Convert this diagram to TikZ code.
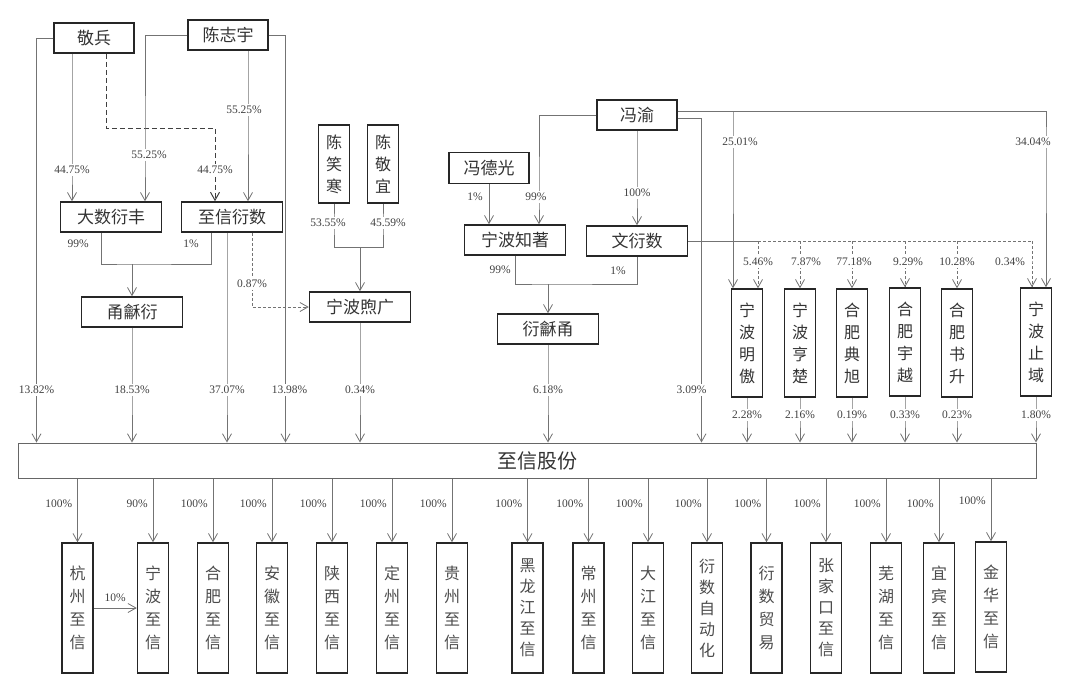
\documentclass[tikz,border=0pt]{standalone}
\usepackage{fontspec}
\setmainfont{Liberation Serif}
\newfontfamily\cjk{Noto Sans CJK SC}
\usetikzlibrary{arrows.meta,positioning}

\tikzset{
	box/.style={draw=black!85, line width=1.5pt, text=black!80, inner sep=0pt,
		minimum width=101pt, minimum height=30pt, font=\cjk\fontsize{17}{20}\selectfont},
	namebox/.style={box, minimum width=80pt},
	vbox/.style={box, minimum width=31pt, align=center, font=\cjk\fontsize{16}{22}\selectfont},
	subbox/.style={vbox, minimum height=130pt, text=black!70, font=\cjk\fontsize{16}{23}\selectfont},
	pct/.style={font=\fontsize{11.5}{13}\selectfont, text=black!75, inner sep=1pt},
	pctw/.style={pct, fill=white, inner sep=2pt},
	link/.style={draw=black!55, line width=0.8pt},
	dlink/.style={link, dash pattern=on 3pt off 2pt},
	jlink/.style={link, draw=black!75, line width=1pt, dash pattern=on 5pt off 3pt},
}

\begin{document}
\begin{tikzpicture}[x=1pt, y=-1pt, >={Straight Barb[length=8pt,width=9pt]}]
	\useasboundingbox (0,0) rectangle (1080,699);

	% shareholders, left
	\node[namebox] (jingbing) at (94,38) {敬兵};
	\node[namebox] (chenzy) at (228,35) {陈志宇};
	\node[box] (dashu) at (111,217) {大数衍丰};
	\node[box] (zxys) at (232,217) {至信衍数};
	\node[box] (yonghe) at (132,312) {甬龢衍};
	\node[vbox, minimum height=78pt] (chenxh) at (334,164) {陈\\笑\\寒};
	\node[vbox, minimum height=78pt] (chenjy) at (383,164) {陈\\敬\\宜};
	\node[box] (nbxg) at (360,307) {宁波煦广};

	% shareholders, middle
	\node[namebox] (fengyu) at (637,115) {冯渝};
	\node[namebox, minimum height=31pt] (fengdg) at (489,168) {冯德光};
	\node[box] (nbzz) at (515,240) {宁波知著};
	\node[box] (wenys) at (637,241) {文衍数};
	\node[box] (yanhy) at (548,329) {衍龢甬};

	% shareholders, right
	\node[vbox, minimum height=108pt] (nbmg) at (747,343) {宁\\波\\明\\傲};
	\node[vbox, minimum height=108pt] (nbhc) at (800,343) {宁\\波\\亨\\楚};
	\node[vbox, minimum height=108pt] (hfdx) at (852,343) {合\\肥\\典\\旭};
	\node[vbox, minimum height=108pt] (hfyy) at (905,342) {合\\肥\\宇\\越};
	\node[vbox, minimum height=108pt] (hfss) at (957,343) {合\\肥\\书\\升};
	\node[vbox, minimum height=108pt] (nbzy) at (1036,342) {宁\\波\\止\\域};

	% company
	\node[draw=black!60, line width=1pt, text=black!80, inner sep=0pt,
		minimum width=1018pt, minimum height=35pt,
		font=\cjk\fontsize{20}{22}\selectfont] (zxgf) at (527,460.5) {\hspace{20pt}至信股份};

	% subsidiaries
	\node[subbox] (b1) at (77.5,608) {杭\\州\\至\\信};
	\node[subbox] (b2) at (153,608) {宁\\波\\至\\信};
	\node[subbox] (b3) at (213,608) {合\\肥\\至\\信};
	\node[subbox] (b4) at (272,608) {安\\徽\\至\\信};
	\node[subbox] (b5) at (332,608) {陕\\西\\至\\信};
	\node[subbox] (b6) at (392,608) {定\\州\\至\\信};
	\node[subbox] (b7) at (452,608) {贵\\州\\至\\信};
	\node[subbox, font=\cjk\fontsize{16}{21}\selectfont] (b8) at (527.5,608) {黑\\龙\\江\\至\\信};
	\node[subbox] (b9) at (588.5,608) {常\\州\\至\\信};
	\node[subbox] (b10) at (648,608) {大\\江\\至\\信};
	\node[subbox, font=\cjk\fontsize{16}{21}\selectfont] (b11) at (707,608) {衍\\数\\自\\动\\化};
	\node[subbox] (b12) at (766.5,608) {衍\\数\\贸\\易};
	\node[subbox, font=\cjk\fontsize{16}{21}\selectfont] (b13) at (826,608) {张\\家\\口\\至\\信};
	\node[subbox] (b14) at (886,608) {芜\\湖\\至\\信};
	\node[subbox] (b15) at (939,608) {宜\\宾\\至\\信};
	\node[subbox] (b16) at (991,607) {金\\华\\至\\信};

	% anchor points
	\coordinate (in1) at ([xshift=19pt]zxgf.north west);
	\coordinate (in4) at ([xshift=268pt]zxgf.north west);
	\coordinate (in7) at ([xshift=684pt]zxgf.north west);
	\coordinate (jb1) at ([xshift=-22pt]jingbing.south);
	\coordinate (jb2) at ([xshift=12pt]jingbing.south);
	\coordinate (ds1) at ([xshift=34pt]dashu.north);
	\coordinate (zx1) at ([xshift=-17pt]zxys.north);
	\coordinate (zx2) at ([xshift=16pt]zxys.north);
	\coordinate (zx3) at ([xshift=-5pt]zxys.south);
	\coordinate (zx4) at ([xshift=20pt]zxys.south);
	\coordinate (j1) at (yonghe.north |- 0,264);
	\coordinate (j2) at (nbxg.north |- 0,247);
	\coordinate (j3) at (yanhy.north |- 0,284);
	\coordinate (nz1) at ([xshift=24pt]nbzz.north);
	\coordinate (nz2) at ([xshift=-26pt]nbzz.north);
	\coordinate (fy1) at ([yshift=4pt]fengyu.east);
	\coordinate (fy2) at ([yshift=-3pt]fengyu.east);
	\coordinate (mg1) at ([xshift=-14pt]nbmg.north);
	\coordinate (mg2) at ([xshift=11pt]nbmg.north);
	\coordinate (zy1) at ([xshift=10pt]nbzy.north);
	\coordinate (zy2) at ([xshift=-4pt]nbzy.north);

	% 敬兵 and 陈志宇
	\draw[link,->] (jingbing.west) -| (in1 |- 0,390) node[pctw] {13.82\%} -- (in1);
	\draw[link,->] (jb1) -- (jb1 |- 0,170) node[pctw] {44.75\%} -- (jb1 |- dashu.north);
	\draw[jlink,->] (jb2) |- (zx1 |- 0,128) -- (zx1 |- 0,170) node[pctw] {44.75\%} -- (zx1);
	\draw[link,->] (chenzy.west) -| (ds1 |- 0,155) node[pctw,xshift=4pt] {55.25\%} -- (ds1);
	\draw[link,->] (zx2 |- chenzy.south) -- (zx2 |- 0,110) node[pctw,xshift=-4pt] {55.25\%} -- (zx2);
	\draw[link,->] (chenzy.east) -| (in4 |- 0,390) node[pctw,xshift=4pt] {13.98\%} -- (in4);

	% into 甬龢衍
	\draw[link] ([xshift=-10pt]dashu.south) node[pct, below left=6pt and 11pt] {99\%}
		|- (j1) -| ([xshift=-21pt]zxys.south) node[pct, below left=6pt and 11pt] {1\%};
	\draw[link,->] (j1) -- (yonghe.north);
	\draw[link,->] (yonghe.south) -- (yonghe.south |- 0,390) node[pctw] {18.53\%} -- (yonghe.south |- zxgf.north);
	\draw[link,->] (zx3) -- (zx3 |- 0,390) node[pctw] {37.07\%} -- (zx3 |- zxgf.north);

	% into 宁波煦广
	\draw[dlink,->] (zx4) -- (zx4 |- 0,284) node[pctw] {0.87\%} |- (nbxg.west);
	\draw[link] (chenxh.south) -- (chenxh.south |- 0,223) node[pctw,xshift=-6pt] {53.55\%} |- (j2);
	\draw[link] (chenjy.south) -- (chenjy.south |- 0,223) node[pctw,xshift=5pt] {45.59\%} |- (j2);
	\draw[link,->] (j2) -- (nbxg.north);
	\draw[link,->] (nbxg.south) -- (nbxg.south |- 0,390) node[pctw] {0.34\%} -- (nbxg.south |- zxgf.north);

	% 冯渝 and 冯德光
	\draw[link,->] (fengyu.west) -| (nz1 |- 0,197) node[pctw,xshift=-3pt] {99\%} -- (nz1);
	\draw[link,->] (fengdg.south) -- node[pct, pos=0.32, left=5pt] {1\%} (nz2);
	\draw[link,->] (fengyu.south) -- (fengyu.south |- 0,193) node[pctw] {100\%} -- (wenys.north);
	\draw[link] (nbzz.south) node[pct, below left=9pt and 3pt] {99\%}
		|- (j3) -| (wenys.south) node[pct, below left=9pt and 10pt] {1\%};
	\draw[link,->] (j3) -- (yanhy.north);
	\draw[link,->] (yanhy.south) -- (yanhy.south |- 0,390) node[pctw] {6.18\%} -- (yanhy.south |- zxgf.north);
	\draw[link,->] (fy2) -| (in7 |- 0,390) node[pctw,xshift=-10pt] {3.09\%} -- (in7);
	\draw[link,->] (fy1) -| (zy1 |- 0,142) node[pctw,xshift=-13pt] {34.04\%} -- (zy1);
	\draw[link,->] (mg1 |- fy1) -- (mg1 |- 0,142) node[pctw,xshift=7pt] {25.01\%} -- (mg1);

	% 文衍数 to the right boxes
	\draw[link] (wenys.east) -- (mg2 |- wenys.east);
	\draw[dlink] (mg2 |- wenys.east) -- (zy2 |- wenys.east);
	\draw[dlink,->] (mg2 |- wenys.east) -- (mg2 |- 0,262) node[pctw] {5.46\%} -- (mg2);
	\draw[dlink,->] (nbhc.north |- wenys.east) -- (nbhc.north |- 0,262) node[pctw,xshift=6pt] {7.87\%} -- (nbhc.north);
	\draw[dlink,->] (hfdx.north |- wenys.east) -- (hfdx.north |- 0,262) node[pctw,xshift=2pt] {77.18\%} -- (hfdx.north);
	\draw[dlink,->] (hfyy.north |- wenys.east) -- (hfyy.north |- 0,262) node[pctw,xshift=3pt] {9.29\%} -- (hfyy.north);
	\draw[dlink,->] (hfss.north |- wenys.east) -- (hfss.north |- 0,262) node[pctw] {10.28\%} -- (hfss.north);
	\draw[dlink,->] (zy2 |- wenys.east) -- (zy2 |- 0,262) node[pct,xshift=-22pt] {0.34\%} -- (zy2);

	% right boxes to 至信股份
	\draw[link,->] (nbmg.south) -- (nbmg.south |- 0,415) node[pctw] {2.28\%} -- (nbmg.south |- zxgf.north);
	\draw[link,->] (nbhc.south) -- (nbhc.south |- 0,415) node[pctw] {2.16\%} -- (nbhc.south |- zxgf.north);
	\draw[link,->] (hfdx.south) -- (hfdx.south |- 0,415) node[pctw] {0.19\%} -- (hfdx.south |- zxgf.north);
	\draw[link,->] (hfyy.south) -- (hfyy.south |- 0,415) node[pctw] {0.33\%} -- (hfyy.south |- zxgf.north);
	\draw[link,->] (hfss.south) -- (hfss.south |- 0,415) node[pctw] {0.23\%} -- (hfss.south |- zxgf.north);
	\draw[link,->] (nbzy.south) -- (nbzy.south |- 0,415) node[pctw] {1.80\%} -- (nbzy.south |- zxgf.north);

	% 至信股份 to subsidiaries
	\draw[link,->] (b1.north |- zxgf.south) -- node[pct, pos=0.4, left=4pt] {100\%} (b1.north);
	\draw[link,->] (b2.north |- zxgf.south) -- node[pct, pos=0.4, left=4pt] {90\%} (b2.north);
	\draw[link,->] (b3.north |- zxgf.south) -- node[pct, pos=0.4, left=4pt] {100\%} (b3.north);
	\draw[link,->] (b4.north |- zxgf.south) -- node[pct, pos=0.4, left=4pt] {100\%} (b4.north);
	\draw[link,->] (b5.north |- zxgf.south) -- node[pct, pos=0.4, left=4pt] {100\%} (b5.north);
	\draw[link,->] (b6.north |- zxgf.south) -- node[pct, pos=0.4, left=4pt] {100\%} (b6.north);
	\draw[link,->] (b7.north |- zxgf.south) -- node[pct, pos=0.4, left=4pt] {100\%} (b7.north);
	\draw[link,->] (b8.north |- zxgf.south) -- node[pct, pos=0.4, left=4pt] {100\%} (b8.north);
	\draw[link,->] (b9.north |- zxgf.south) -- node[pct, pos=0.4, left=4pt] {100\%} (b9.north);
	\draw[link,->] (b10.north |- zxgf.south) -- node[pct, pos=0.4, left=4pt] {100\%} (b10.north);
	\draw[link,->] (b11.north |- zxgf.south) -- node[pct, pos=0.4, left=4pt] {100\%} (b11.north);
	\draw[link,->] (b12.north |- zxgf.south) -- node[pct, pos=0.4, left=4pt] {100\%} (b12.north);
	\draw[link,->] (b13.north |- zxgf.south) -- node[pct, pos=0.4, left=4pt] {100\%} (b13.north);
	\draw[link,->] (b14.north |- zxgf.south) -- node[pct, pos=0.4, left=4pt] {100\%} (b14.north);
	\draw[link,->] (b15.north |- zxgf.south) -- node[pct, pos=0.4, left=4pt] {100\%} (b15.north);
	\draw[link,->] (b16.north |- zxgf.south) -- node[pct, pos=0.35, left=4pt] {100\%} (b16.north);
	\draw[link,->] (b1.east) -- node[pct, above=5pt] {10\%} (b2.west);
\end{tikzpicture}
\end{document}
